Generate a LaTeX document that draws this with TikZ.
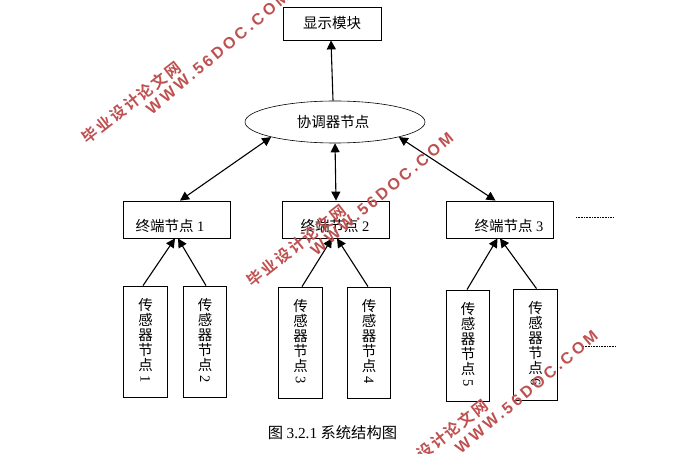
\documentclass[tikz,border=0pt]{standalone}
\usepackage{fontspec}
\setmainfont{Liberation Serif}
\newfontfamily\cjk{Noto Sans CJK SC}
\newfontfamily\wmcn[LetterSpace=14]{Noto Sans CJK SC Bold}
\newfontfamily\wmlat[LetterSpace=19]{Liberation Sans Bold}
\usetikzlibrary{calc,positioning,arrows.meta,shapes.geometric}
\definecolor{wmred}{RGB}{190,80,80}
\newcommand{\sensortext}[1]{\raisebox{9pt}{\shortstack{\cjk 传\\[-1pt]\cjk 感\\[-1pt]\cjk 器\\[-1pt]\cjk 节\\[-1pt]\cjk 点\\[1pt]\rotatebox{-90}{#1}}}}
\tikzset{
  boxbase/.style={draw,line width=0.8pt,inner sep=0pt,font=\fontsize{14.5}{15}\selectfont},
  modbox/.style={boxbase,minimum width=98pt,minimum height=33pt},
  endbox/.style={boxbase,minimum width=107pt,minimum height=37pt},
  endlabel/.style={font=\fontsize{14.5}{15}\selectfont,yshift=-6.5pt},
  sensorbox/.style={boxbase,minimum width=43.5pt,minimum height=111pt},
  link/.style={-{Triangle[length=9pt,width=9pt]},line width=1.1pt},
  duplex/.style={{Triangle[length=9pt,width=9pt]}-{Triangle[length=9pt,width=9pt]},line width=1.1pt},
  moredots/.style={densely dotted,line width=0.6pt},
  wmcjk/.style={text=wmred,rotate=38,font=\wmcn\fontsize{15.5}{16}\selectfont},
  wmurl/.style={text=wmred,rotate=40,font=\wmlat\fontsize{16}{17}\selectfont}
}
\begin{document}
\begin{tikzpicture}[x=1pt,y=-1pt]
  \useasboundingbox (0,0) rectangle (676,454);
  \clip (0,0) rectangle (676,454);

  \node[modbox] (disp) at (332,23.5) {\cjk 显示模块};
  \node[draw,line width=0.6pt,ellipse,minimum width=180pt,minimum height=42pt,inner sep=0pt,font=\fontsize{14.5}{15}\selectfont] (coord) at (335,122) {\hspace*{-4pt}\cjk 协调器节点};

  % terminal nodes
  \node[endbox,label={[endlabel,xshift=-7pt]center:{\cjk 终端节点} 1}] (end1) at (177,219.5) {};
  \node[endbox,label={[endlabel,xshift=-1pt]center:{\cjk 终端节点} 2}] (end2) at (336,219.5) {};
  \node[endbox,label={[endlabel,xshift=9.5pt]center:{\cjk 终端节点} 3}] (end3) at (499.5,219.5) {};

  % sensors
  \node[sensorbox] (sens1) at (145.5,341.5) {\sensortext{1}};
  \node[sensorbox] (sens2) at (205,341.5) {\sensortext{2}};
  \node[sensorbox] (sens3) at (300.5,342.5) {\sensortext{3}};
  \node[sensorbox] (sens4) at (369,342.5) {\sensortext{4}};
  \node[sensorbox] (sens5) at (468,345.5) {\sensortext{5}};
  \node[sensorbox] (sens6) at (535.5,344.5) {\sensortext{6}};

  \draw[link] ($(coord.north)+(-2pt,0)$) -- ($(disp.south)+(-1pt,0)$);
  \draw[duplex] (coord.south west) -- ($(end1.north)+(3pt,0)$);
  \draw[duplex] (coord.south) -- (end2.north);
  \draw[duplex] (coord.south east) -- ($(end3.north)+(-4pt,0)$);

  \draw[link] ($(sens1.north)+(-2.5pt,0)$) -- ($(end1.south)+(-2pt,0)$);
  \draw[link] ($(sens2.north)+(1pt,0)$) -- ($(end1.south)+(1pt,0)$);
  \draw[link] ($(sens3.north)+(1.5pt,0)$) -- ($(end2.south)+(-4pt,0)$);
  \draw[link] ($(sens4.north)+(-1pt,0)$) -- ($(end2.south)+(1pt,0)$);
  \draw[link] ($(sens5.north)+(-1pt,0)$) -- ($(end3.south)+(-2pt,0)$);
  \draw[link] ($(sens6.north)+(1pt,0)$) -- ($(end3.south)+(0.5pt,0)$);

  \coordinate (dotsA) at (576,217);
  \coordinate (dotsB) at (614,217);
  \coordinate (dotsC) at (583,346.5);
  \coordinate (dotsD) at (616,346.5);
  \draw[moredots] (dotsA) -- (dotsB);
  \draw[moredots] (dotsC) -- (dotsD);

  \node[font=\cjk\fontsize{15.3}{16}\selectfont] (caption) at (332.5,433) {图 {\rmfamily 3.2.1} 系统结构图};

  % watermarks
  \node[wmcjk] (wmcjkA) at (131.5,102.5) {毕业设计论文网};
  \node[wmurl] (wmurlA) at (217.5,53) {WWW.56DOC.COM};
  \node[wmcjk] (wmcjkB) at (296.5,245.5) {毕业设计论文网};
  \node[wmurl] (wmurlB) at (382,194) {WWW.56DOC.COM};
  \node[wmcjk] (wmcjkC) at (438.5,440.5) {毕业设计论文网};
  \node[wmurl] (wmurlC) at (526.5,392) {WWW.56DOC.COM};
\end{tikzpicture}
\end{document}
